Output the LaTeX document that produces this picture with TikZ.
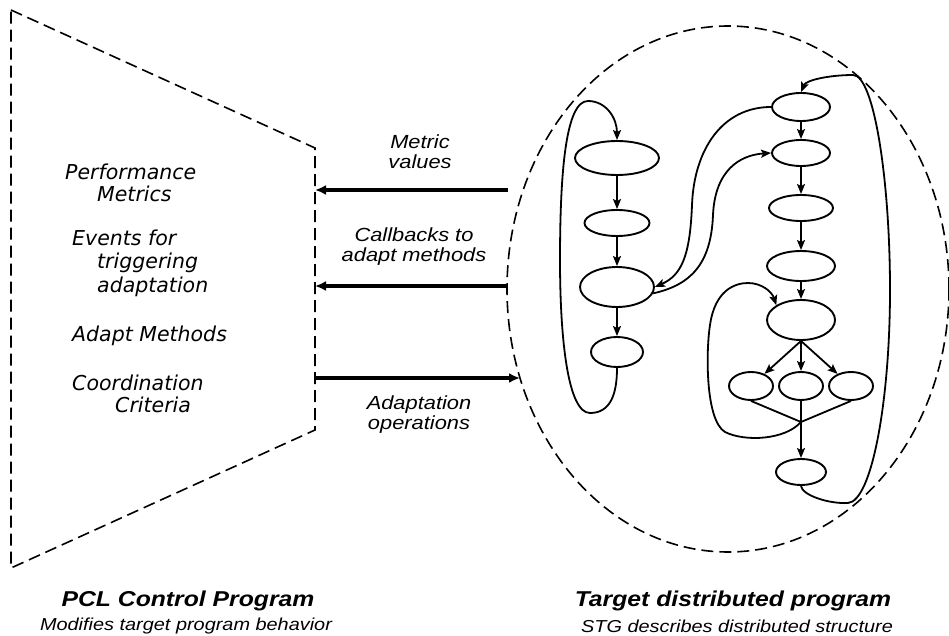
\documentclass[tikz,border=0pt]{standalone}
\usepackage{fontspec}
\setmainfont{Liberation Sans}[FakeStretch=1.15]
\newfontfamily\handfont{DejaVu Sans}
\usepackage{tikz}
\usetikzlibrary{shapes.geometric,arrows.meta}

\begin{document}
\begin{tikzpicture}[x=1pt, y=-1pt,
    stgnode/.style={draw, ellipse, line width=1.9pt, inner sep=0pt},
    flow/.style={line width=1.8pt, -{Stealth[length=10pt,width=8pt,inset=2pt]}},
    plain/.style={line width=1.8pt},
    bigarrow/.style={line width=3.6pt, -{Latex[length=11pt,width=10pt]}},
    boundary/.style={line width=1.6pt, dash pattern=on 12pt off 6pt},
    handtext/.style={font=\handfont\itshape\fontsize{20.5}{22}\selectfont, align=left, anchor=west, inner sep=0pt},
    arrowtext/.style={font=\itshape\fontsize{19}{20}\selectfont, align=center, inner sep=0pt},
    titletext/.style={font=\bfseries\itshape\fontsize{21.5}{24}\selectfont, inner sep=0pt},
    subtext/.style={font=\itshape\fontsize{17.3}{20}\selectfont, inner sep=0pt}]
    \useasboundingbox (0,0) rectangle (949,636);

    % PCL side: the dashed trapezoid
    \coordinate (trTop) at (315,148);
    \coordinate (trBot) at (315,430);
    \draw[boundary] (11,10) -- (trTop) -- (trBot) -- (11,568) -- cycle;

    \node[handtext] (perf) at (65,182.5) {Performance\\\hspace*{32pt}Metrics};
    \node[handtext] (events) at (72,263) {Events for\\[1.5pt]\hspace*{25pt}triggering\\[1.5pt]\hspace*{25pt}adaptation};
    \node[handtext] (adapt) at (72,336) {Adapt Methods};
    \node[handtext] (coord) at (72,394) {Coordination\\\hspace*{43pt}Criteria};

    % target side: the dashed boundary
    \node[draw, ellipse, boundary, minimum width=442pt, minimum height=526pt, inner sep=0pt] (stg) at (728,289) {};

    % left column of the STG
    \node[stgnode, minimum width=84pt, minimum height=34pt] (L1) at (617,158) {};
    \node[stgnode, minimum width=65pt, minimum height=26pt] (L2) at (617,223) {};
    \node[stgnode, minimum width=74pt, minimum height=40pt] (L3) at (617,287) {};
    \node[stgnode, minimum width=52pt, minimum height=30pt] (L4) at (617,352) {};

    % right column of the STG
    \node[stgnode, minimum width=58pt, minimum height=28pt] (R1) at (801,107) {};
    \node[stgnode, minimum width=58pt, minimum height=26pt] (R2) at (801,153) {};
    \node[stgnode, minimum width=64pt, minimum height=26pt] (R3) at (801,208) {};
    \node[stgnode, minimum width=68pt, minimum height=30pt] (R4) at (801,266) {};
    \node[stgnode, minimum width=68pt, minimum height=40pt] (R5) at (801,320) {};
    \node[stgnode, minimum width=44pt, minimum height=28pt] (Ca) at (751,386) {};
    \node[stgnode, minimum width=44pt, minimum height=28pt] (Cb) at (801,386) {};
    \node[stgnode, minimum width=44pt, minimum height=28pt] (Cc) at (851,386) {};
    \node[stgnode, minimum width=50pt, minimum height=26pt] (Rend) at (801,472) {};
    \coordinate (J) at (801,422);

    % straight edges
    \draw[flow] (L1) -- (L2);
    \draw[flow] (L2) -- (L3);
    \draw[flow] (L3) -- (L4);
    \draw[flow] (R1) -- (R2);
    \draw[flow] (R2) -- (R3);
    \draw[flow] (R3) -- (R4);
    \draw[flow] (R4) -- (R5);
    \draw[flow] (R5.south) -- (Ca);
    \draw[flow] (R5) -- (Cb);
    \draw[flow] (R5.south) -- (Cc);
    \draw[plain] (Ca.south) -- (J) -- (Cc.south);
    \draw[flow] (Cb) -- (Rend);

    % back edges
    \draw[flow] (L4.south) .. controls (617,395) and (610,413) .. (590,413)
                .. controls (568,413) and (560,340) .. (560,260)
                .. controls (560,170) and (566,101) .. (588,101)
                .. controls (606,101) and (617,118) .. (L1.north);
    \draw[flow] (R1.west) .. controls (722,107) and (694,150) .. (692,205)
                .. controls (690,255) and (682,275) .. (L3.east);
    \draw[flow] (L3.-10) .. controls (690,285) and (711,265) .. (713,215)
                .. controls (715,170) and (740,155) .. (R2.west);
    \draw[flow] (Rend.south) .. controls (802,495) and (828,504) .. (848,503)
                .. controls (872,501) and (890,400) .. (890,290)
                .. controls (890,180) and (874,75) .. (853,75)
                .. controls (830,75) and (806,80) .. (R1.north);
    \draw[flow] (J) .. controls (785,440) and (745,442) .. (725,432)
                .. controls (705,420) and (706,350) .. (710,325)
                .. controls (715,290) and (735,283) .. (748,283)
                .. controls (762,283) and (772,292) .. (R5.north west);

    % messages between the two programs
    \coordinate (mvSrc) at (508,190);
    \coordinate (cbSrc) at (508,286);
    \coordinate (aoDst) at (520,378);
    \draw[bigarrow] (mvSrc) -- (trTop |- mvSrc);
    \draw[bigarrow] (cbSrc) -- (trTop |- cbSrc);
    \draw[bigarrow] (trTop |- aoDst) -- (aoDst);

    \node[arrowtext] (mvText) at (420,152) {Metric\\values};
    \node[arrowtext] (cbText) at (414,247) {Callbacks to\\adapt methods};
    \node[arrowtext] (aoText) at (419,415) {Adaptation\\operations};

    % captions
    \node[titletext] (pclTitle) at (188,601) {PCL Control Program};
    \node[subtext] (pclSub) at (186,626) {Modifies target program behavior};
    \node[titletext] (stgTitle) at (733,601) {Target distributed program};
    \node[subtext] (stgSub) at (737,626) {STG describes distributed structure};
\end{tikzpicture}
\end{document}
